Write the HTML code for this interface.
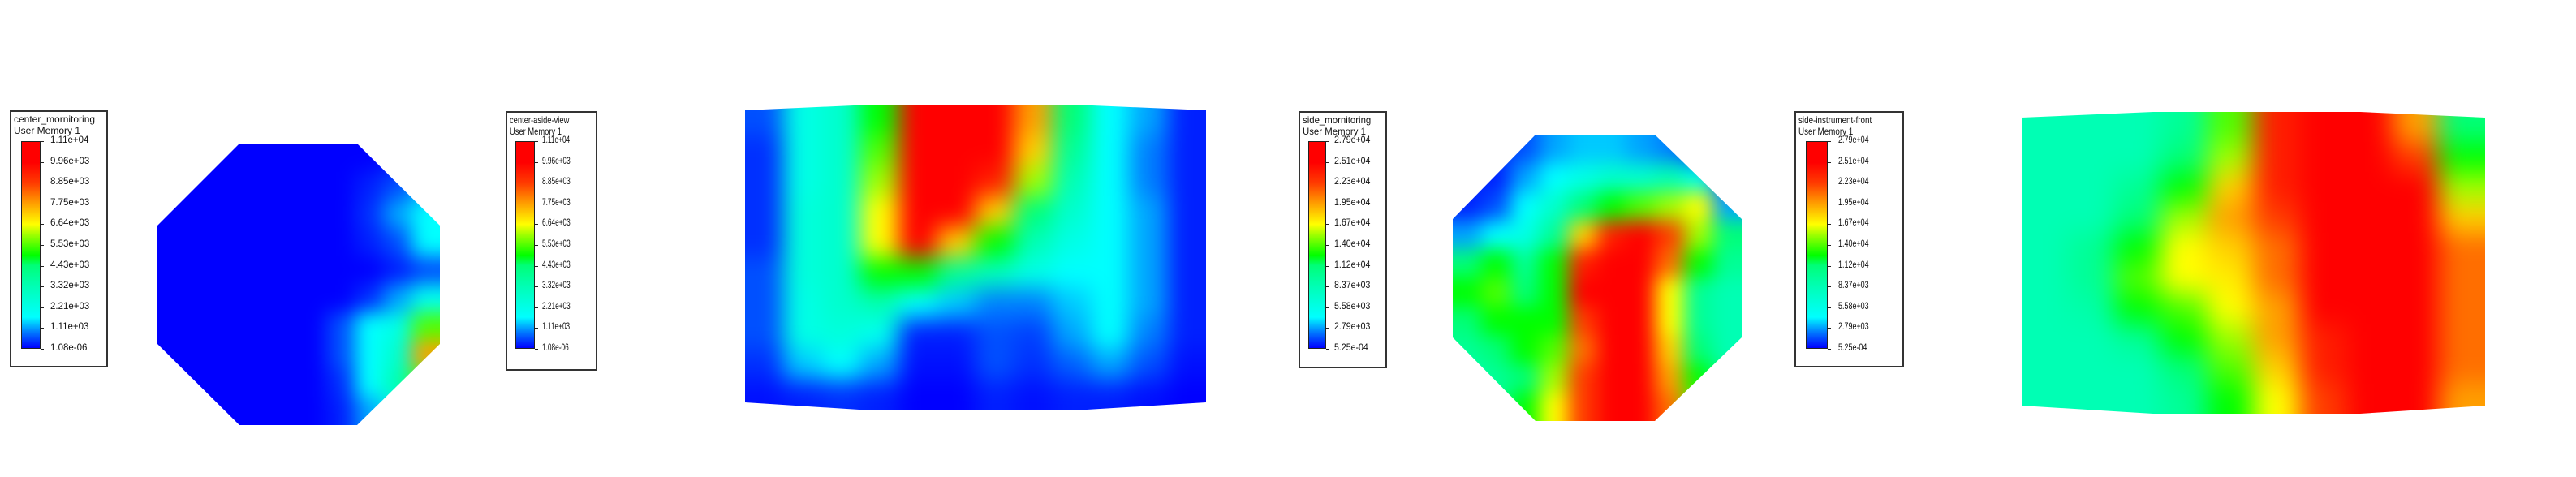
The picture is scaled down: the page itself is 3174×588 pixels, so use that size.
<!DOCTYPE html>
<html><head><meta charset="utf-8">
<style>
html,body{margin:0;padding:0;background:#fff;}
body{width:3174px;height:588px;position:relative;overflow:hidden;font-family:"Liberation Sans",sans-serif;}
svg{position:absolute;left:0;top:0;}
.legend{position:absolute;border:2px solid #333;background:#fff;box-sizing:border-box;}
.ltitle{position:absolute;left:3px;font-size:12px;line-height:14px;color:#111;white-space:nowrap;transform-origin:0 0;}
.cbar{position:absolute;border:1px solid #222;box-sizing:border-box;}
.tick{position:absolute;font-size:11.5px;color:#111;white-space:nowrap;transform-origin:0 50%;}
.tm{position:absolute;width:4px;height:1px;background:#222;}
</style></head>
<body>
<svg id="plot" width="3174" height="588"></svg>
<div id="legends"></div>
<script>
// ---- data (normalized 0..1 values) ----
const ticksCenter = ["1.11e+04","9.96e+03","8.85e+03","7.75e+03","6.64e+03","5.53e+03","4.43e+03","3.32e+03","2.21e+03","1.11e+03","1.08e-06"];
const ticksSide = ["2.79e+04","2.51e+04","2.23e+04","1.95e+04","1.67e+04","1.40e+04","1.12e+04","8.37e+03","5.58e+03","2.79e+03","5.25e-04"];
const grid1 = [
[0,0,0,0,0,0,0,0,0.01,0.03],
[0,0,0,0,0,0,0,0.02,0.05,0.1],
[0,0,0,0,0,0,0,0.03,0.1,0.15],
[0,0,0,0,0,0,0,0.02,0.05,0.15],
[0,0,0,0,0,0,0,0,0.02,0.05],
[0,0,0,0,0,0,0,0.03,0.1,0.18],
[0,0,0,0,0,0,0.05,0.15,0.2,0.5],
[0,0,0,0,0,0,0.05,0.15,0.25,0.7],
[0,0,0,0,0,0,0.03,0.15,0.3,0.5],
[0,0,0,0,0,0,0.02,0.1,0.2,0.3]];
const grid2 = [
[0.05,0.2,0.25,0.45,0.95,0.95,0.9,0.7,0.4,0.15,0.1,0.02],
[0.03,0.2,0.25,0.5,0.95,0.95,0.9,0.65,0.35,0.15,0.08,0.02],
[0.03,0.2,0.25,0.55,0.95,0.95,0.85,0.55,0.3,0.15,0.08,0.02],
[0.03,0.22,0.25,0.6,0.95,0.9,0.65,0.4,0.25,0.15,0.1,0.02],
[0.03,0.22,0.25,0.6,0.9,0.65,0.45,0.3,0.2,0.15,0.1,0.02],
[0.05,0.22,0.25,0.45,0.45,0.35,0.28,0.2,0.15,0.15,0.1,0.02],
[0.05,0.2,0.25,0.3,0.15,0.12,0.08,0.08,0.12,0.15,0.1,0.02],
[0.05,0.2,0.22,0.18,0.02,0.02,0.05,0.04,0.1,0.15,0.08,0.02],
[0.03,0.12,0.15,0.1,0.01,0.01,0.05,0.03,0.06,0.1,0.05,0.01],
[0.01,0.02,0.03,0.02,0,0,0.02,0.01,0.02,0.02,0.01,0]];
const grid3 = [
[0.02,0.03,0.05,0.1,0.12,0.12,0.1,0.08,0.02,0.01],
[0.02,0.02,0.1,0.15,0.2,0.25,0.25,0.3,0.2,0.05],
[0.02,0.05,0.15,0.25,0.4,0.45,0.5,0.55,0.6,0.1],
[0.1,0.15,0.2,0.35,0.65,0.85,0.9,0.8,0.55,0.4],
[0.4,0.45,0.35,0.45,0.85,0.95,0.95,0.75,0.45,0.35],
[0.45,0.5,0.4,0.45,0.9,0.95,0.92,0.6,0.35,0.3],
[0.4,0.45,0.45,0.45,0.8,0.95,0.92,0.6,0.35,0.3],
[0.35,0.4,0.45,0.5,0.75,0.95,0.92,0.65,0.4,0.3],
[0.3,0.35,0.4,0.55,0.8,0.95,0.92,0.7,0.45,0.35],
[0.3,0.35,0.45,0.6,0.8,0.92,0.9,0.75,0.5,0.4]];
const grid4 = [
[0.3,0.3,0.3,0.35,0.5,0.85,0.95,0.95,0.7,0.4],
[0.3,0.3,0.3,0.4,0.55,0.85,0.95,0.95,0.8,0.45],
[0.3,0.3,0.35,0.45,0.65,0.85,0.95,0.95,0.9,0.55],
[0.3,0.3,0.4,0.55,0.7,0.8,0.95,0.95,0.9,0.65],
[0.3,0.35,0.45,0.6,0.65,0.75,0.9,0.95,0.9,0.75],
[0.3,0.35,0.5,0.6,0.62,0.75,0.9,0.95,0.9,0.75],
[0.3,0.32,0.45,0.5,0.6,0.7,0.9,0.95,0.9,0.75],
[0.3,0.3,0.35,0.45,0.55,0.7,0.85,0.95,0.9,0.75],
[0.3,0.3,0.3,0.4,0.5,0.65,0.85,0.95,0.9,0.75],
[0.3,0.3,0.3,0.35,0.45,0.6,0.8,0.95,0.9,0.7]];

const stops=[[0,[0,0,255]],[0.08,[0,128,255]],[0.15,[0,255,255]],[0.3,[0,255,180]],[0.4,[0,255,120]],[0.45,[0,255,0]],[0.55,[160,255,0]],[0.6,[255,255,0]],[0.7,[255,160,0]],[0.8,[255,60,0]],[0.9,[255,0,0]],[1,[255,0,0]]];
function cmap(v){v=Math.max(0,Math.min(1,v));for(let i=1;i<stops.length;i++){if(v<=stops[i][0]){const a=stops[i-1],b=stops[i];const t=(v-a[0])/(b[0]-a[0]||1);const c=a[1].map((x,k)=>Math.round(x+(b[1][k]-x)*t));return `rgb(${c[0]},${c[1]},${c[2]})`;}}return 'rgb(255,0,0)';}

const NS="http://www.w3.org/2000/svg";
const svg=document.getElementById('plot');
const defs=document.createElementNS(NS,'defs');svg.appendChild(defs);

const panels=[
 {name:'center-monitoring-contour',grid:grid1,x0:194,x1:542,y0:177,y1:524,blur:12,
  poly:[[295,177],[440,177],[542,278],[542,424],[440,524],[295,524],[194,424],[194,278]]},
 {name:'center-aside-view-contour',grid:grid2,x0:918,x1:1486,y0:129,y1:506,blur:14,
  poly:[[918,136],[1074,129],[1323,129],[1486,136],[1486,496],[1323,506],[1074,506],[918,496]]},
 {name:'side-monitoring-contour',grid:grid3,x0:1790,x1:2146,y0:166,y1:519,blur:12,
  poly:[[1892,166],[2039,166],[2146,270],[2146,416],[2039,519],[1892,519],[1790,416],[1790,270]]},
 {name:'side-instrument-front-contour',grid:grid4,x0:2491,x1:3062,y0:138,y1:510,blur:16,
  poly:[[2491,145],[2653,138],[2908,138],[3062,145],[3062,500],[2908,510],[2653,510],[2491,500]]}
];
panels.forEach((p,pi)=>{
  const cid='clip'+pi;
  const cp=document.createElementNS(NS,'clipPath');cp.setAttribute('id',cid);
  const pg=document.createElementNS(NS,'polygon');pg.setAttribute('points',p.poly.map(a=>a.join(',')).join(' '));
  cp.appendChild(pg);defs.appendChild(cp);
  const outer=document.createElementNS(NS,'g');outer.setAttribute('clip-path',`url(#${cid})`);
  
  
  const inner=document.createElementNS(NS,'g');
  inner.style.filter=`blur(${p.blur}px)`;
  const rows=p.grid.length, cols=p.grid[0].length;
  const cw=(p.x1-p.x0)/cols, ch=(p.y1-p.y0)/rows, pad=50;
  const xs=c=>p.x0+c*cw, ys=r=>p.y0+r*ch;
  p.grid.forEach((row,r)=>row.forEach((v,c)=>{
    const rc=document.createElementNS(NS,'rect');
    let x=xs(c),y=ys(r),w=cw,h=ch;
    if(c===0){x-=pad;w+=pad;} if(c===cols-1){w+=pad;}
    if(r===0){y-=pad;h+=pad;} if(r===rows-1){h+=pad;}
    rc.setAttribute('x',x);rc.setAttribute('y',y);rc.setAttribute('width',w+0.5);rc.setAttribute('height',h+0.5);
    rc.setAttribute('fill',cmap(v));
    
    
    inner.appendChild(rc);
  }));
  outer.appendChild(inner);svg.appendChild(outer);
});

// ---- legends ----
const grad='linear-gradient(to top,'+stops.map(s=>cmap(s[0])+' '+(s[0]*100)+'%').join(',')+')';
const legends=[
 {name:'center-monitoring-legend',title:'center_mornitoring',ticks:ticksCenter,bx:12,by:136,bw:121,bh:317,cx:26,cw:24,lx:62,sx:1,ts:1},
 {name:'center-aside-view-legend',title:'center-aside-view',ticks:ticksCenter,bx:623,by:137,bw:113,bh:320,cx:635,cw:24,lx:668,sx:0.72,ts:0.78},
 {name:'side-monitoring-legend',title:'side_mornitoring',ticks:ticksSide,bx:1600,by:137,bw:109,bh:317,cx:1612,cw:22,lx:1644,sx:0.92,ts:0.95},
 {name:'side-instrument-front-legend',title:'side-instrument-front',ticks:ticksSide,bx:2211,by:137,bw:135,bh:316,cx:2225,cw:27,lx:2265,sx:0.78,ts:0.82}
];
const L=document.getElementById('legends');
legends.forEach(l=>{
  const box=document.createElement('div');box.className='legend';
  box.style.cssText=`left:${l.bx}px;top:${l.by}px;width:${l.bw}px;height:${l.bh}px;`;
  
  
  const t=document.createElement('div');t.className='ltitle';t.style.top='2px';
  t.style.transform=`scaleX(${l.ts})`;
  t.innerHTML=l.title+'<br>User Memory 1';
  
  
  box.appendChild(t);
  L.appendChild(box);
  const top=174,bot=430;
  const cb=document.createElement('div');cb.className='cbar';
  cb.style.cssText=`left:${l.cx}px;top:${top}px;width:${l.cw}px;height:${bot-top}px;background:${grad};`;
  
  
  L.appendChild(cb);
  l.ticks.forEach((lab,i)=>{
    const y=top+i*(bot-top)/(l.ticks.length-1);
    const m=document.createElement('div');m.className='tm';
    m.style.left=(l.cx+l.cw)+'px';m.style.top=Math.round(y)+'px';
    
    
    L.appendChild(m);
    const d=document.createElement('div');d.className='tick';
    d.style.left=l.lx+'px';d.style.top=(y-7)+'px';d.style.transform=`scaleX(${l.sx})`;
    d.textContent=lab;
    
    
    L.appendChild(d);
  });
});
</script>
</body></html>
